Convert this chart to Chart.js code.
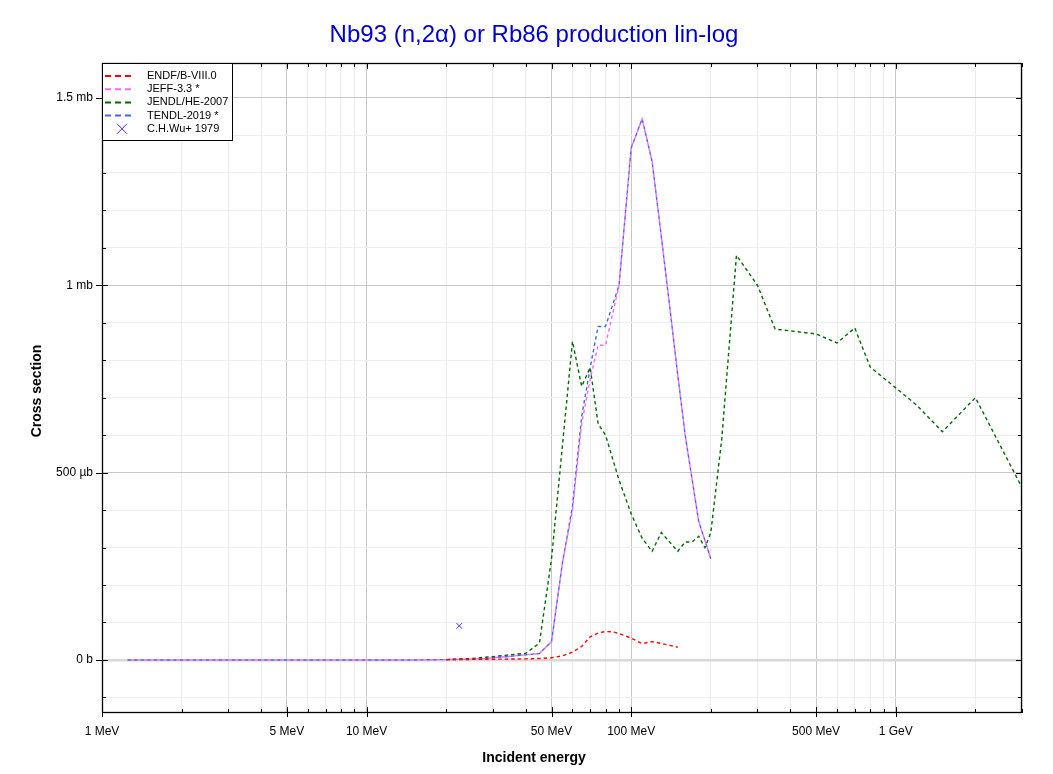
<!DOCTYPE html>
<html>
<head>
<meta charset="utf-8">
<script src="https://cdn.jsdelivr.net/npm/chart.js@4/dist/chart.umd.min.js"></script>
<style>
  html, body { margin: 0; padding: 0; background: #fff; }
  #wrap { width: 1053px; height: 774px; }
</style>
</head>
<body>
<div id="wrap"><canvas id="xsChart" width="1053" height="774"></canvas></div>
<script>
// energies in MeV, cross sections in mb
const tendlE = [1.25, 2, 5, 10, 15, 20, 22, 24, 26, 28, 30, 35, 40, 45, 50, 55, 60, 65, 70, 75, 80, 90, 100, 110, 120, 130, 140, 150, 160, 180, 200];
const tendlXS = [0, 0, 0, 0, 0, 0.001, 0.0015, 0.002, 0.003, 0.004, 0.006, 0.010, 0.014, 0.017, 0.049, 0.26, 0.41, 0.65, 0.78, 0.89, 0.89, 1.0, 1.366, 1.444, 1.33, 1.13, 0.94, 0.76, 0.60, 0.37, 0.27];
const jeffXS = [0, 0, 0, 0, 0, 0.001, 0.0015, 0.002, 0.003, 0.004, 0.006, 0.010, 0.014, 0.017, 0.049, 0.26, 0.40, 0.63, 0.75, 0.84, 0.84, 1.0, 1.366, 1.444, 1.33, 1.13, 0.94, 0.76, 0.60, 0.37, 0.27];

const endfE = [20, 25, 30, 35, 40, 45, 50, 55, 60, 65, 70, 75, 80, 85, 90, 100, 110, 120, 130, 140, 150];
const endfXS = [0.001, 0.0015, 0.002, 0.0025, 0.003, 0.004, 0.006, 0.011, 0.021, 0.036, 0.062, 0.072, 0.076, 0.075, 0.071, 0.058, 0.044, 0.049, 0.044, 0.039, 0.034];

const jendlE = [20, 25, 30, 35, 40, 45, 50, 60, 65, 70, 75, 80, 90, 100, 110, 120, 130, 150, 160, 170, 180, 190, 200, 220, 250, 300, 350, 500, 600, 700, 800, 1000, 1200, 1500, 2000, 3000];
const jendlXS = [0.001, 0.004, 0.009, 0.014, 0.018, 0.045, 0.27, 0.85, 0.73, 0.78, 0.63, 0.60, 0.48, 0.39, 0.325, 0.29, 0.34, 0.29, 0.315, 0.315, 0.33, 0.30, 0.34, 0.59, 1.08, 1.0, 0.883, 0.87, 0.846, 0.886, 0.782, 0.726, 0.68, 0.609, 0.70, 0.46];

const wuE = [22.4];
const wuXS = [0.091];

const xLabels = {1: "1 MeV", 5: "5 MeV", 10: "10 MeV", 50: "50 MeV", 100: "100 MeV", 500: "500 MeV", 1000: "1 GeV"};
const yLabels = {"0": "0 b", "0.5": "500 µb", "1": "1 mb", "1.5": "1.5 mb"};

const FONT = "'Liberation Sans', Arial, sans-serif";

function pts(xs, ys) {
  return xs.map((x, i) => ({x: x, y: ys[i]}));
}

// tick positions: 1..9 per decade on x, 0.1 steps on y
const xTicks = [];
[1, 10, 100, 1000].forEach(d => {
  for (let m = 1; m <= 9; m++) if (m * d <= 3000) xTicks.push(m * d);
});
const yTicks = [];
for (let i = -1; i <= 15; i++) yTicks.push(i / 10);

const isMajorX = v => xLabels[v] !== undefined;
const isMajorY = v => Math.abs(v * 2 - Math.round(v * 2)) < 1e-6;
const yKey = v => String(Math.round(v * 10) / 10);

function lineSet(label, color, data, offset) {
  return {
    label: label,
    data: data,
    borderColor: color,
    backgroundColor: color,
    borderWidth: 1.4,
    borderDash: [3.5, 3],
    borderDashOffset: offset || 0,
    pointRadius: 0,
    fill: false,
    tension: 0
  };
}

const frameAndLegend = {
  id: "frameAndLegend",
  afterDraw(chart) {
    const ctx = chart.ctx;
    const a = chart.chartArea;
    const sx = chart.scales.x, sy = chart.scales.y;
    ctx.save();
    ctx.strokeStyle = "#000";
    ctx.lineWidth = 1;
    ctx.setLineDash([]);

    // tick marks on all four sides
    ctx.beginPath();
    xTicks.forEach(v => {
      const px = Math.round(sx.getPixelForValue(v)) + 0.5;
      const len = isMajorX(v) ? 6 : 4;
      ctx.moveTo(px, a.bottom + (isMajorX(v) ? 4 : 0));
      ctx.lineTo(px, a.bottom - len);
      ctx.moveTo(px, a.top);
      ctx.lineTo(px, a.top + len);
    });
    yTicks.forEach(v => {
      const py = Math.round(sy.getPixelForValue(v)) + 0.5;
      const len = isMajorY(v) ? 6 : 4;
      ctx.moveTo(a.left - (isMajorY(v) ? 6 : 0), py);
      ctx.lineTo(a.left + len, py);
      ctx.moveTo(a.right, py);
      ctx.lineTo(a.right - len, py);
    });
    ctx.stroke();

    ctx.lineWidth = 1.3;
    ctx.strokeRect(a.left + 0.5, a.top + 0.5, a.right - a.left - 1, a.bottom - a.top - 1);

    // titles
    ctx.textAlign = "center";
    ctx.textBaseline = "middle";
    ctx.fillStyle = "#0000cc";
    ctx.font = "24px " + FONT;
    ctx.fillText("Nb93 (n,2α) or Rb86 production lin-log", 534, 35);
    ctx.fillStyle = "#000";
    ctx.font = "bold 14px " + FONT;
    ctx.fillText("Incident energy", 534, 758);
    ctx.save();
    ctx.translate(37, 391);
    ctx.rotate(-Math.PI / 2);
    ctx.fillText("Cross section", 0, 0);
    ctx.restore();

    // legend box, top-left of the plot
    const bx = a.left, by = a.top, bw = 130, bh = 77;
    ctx.fillStyle = "#fff";
    ctx.fillRect(bx, by, bw, bh);
    ctx.lineWidth = 1;
    ctx.strokeRect(bx + 0.5, by + 0.5, bw, bh);

    ctx.font = "11px " + FONT;
    ctx.textBaseline = "middle";
    ctx.textAlign = "left";
    chart.data.datasets.forEach((ds, i) => {
      const yy = by + 13 + i * 13.2;
      ctx.strokeStyle = ds.borderColor;
      if (ds.showLine === false) {
        ctx.lineWidth = 1;
        ctx.setLineDash([]);
        ctx.beginPath();
        ctx.moveTo(bx + 15, yy - 5);
        ctx.lineTo(bx + 25, yy + 5);
        ctx.moveTo(bx + 25, yy - 5);
        ctx.lineTo(bx + 15, yy + 5);
        ctx.stroke();
      } else {
        ctx.lineWidth = 2;
        ctx.setLineDash([6, 4]);
        ctx.beginPath();
        ctx.moveTo(bx + 3, yy);
        ctx.lineTo(bx + 33, yy);
        ctx.stroke();
      }
      ctx.fillStyle = "#000";
      ctx.fillText(ds.label, bx + 45, yy);
    });
    ctx.restore();
  }
};

const chart = new Chart(document.getElementById("xsChart").getContext("2d"), {
  type: "line",
  data: {
    datasets: [
      lineSet("ENDF/B-VIII.0", "#ff0000", pts(endfE, endfXS)),
      lineSet("JEFF-3.3 *", "#ff66ff", pts(tendlE, jeffXS), 3.25),
      lineSet("JENDL/HE-2007", "#006a00", pts(jendlE, jendlXS)),
      lineSet("TENDL-2019 *", "#4169e1", pts(tendlE, tendlXS)),
      {
        label: "C.H.Wu+ 1979",
        data: pts(wuE, wuXS),
        showLine: false,
        borderColor: "#3030ff",
        backgroundColor: "#3030ff",
        pointStyle: "crossRot",
        pointRadius: 4,
        pointBorderWidth: 1
      }
    ]
  },
  options: {
    responsive: false,
    animation: false,
    layout: { padding: { left: 0, right: 31, top: 63, bottom: 0 } },
    scales: {
      x: {
        type: "logarithmic",
        min: 1,
        max: 3000,
        afterBuildTicks: s => { s.ticks = xTicks.map(v => ({value: v})); },
        afterFit: s => { s.height = 61; },
        border: { display: false },
        grid: {
          drawTicks: false,
          color: c => (c.tick && isMajorX(c.tick.value)) ? "#c8c8c8" : "#ececec",
          lineWidth: 1
        },
        ticks: {
          autoSkip: false,
          maxRotation: 0,
          padding: 11,
          color: "#000",
          font: { family: FONT, size: 12 },
          callback: v => xLabels[v] || ""
        }
      },
      y: {
        type: "linear",
        min: -0.1415,
        max: 1.593,
        afterBuildTicks: s => { s.ticks = yTicks.map(v => ({value: v})); },
        afterFit: s => { s.width = 102; },
        border: { display: false },
        grid: {
          drawTicks: false,
          color: c => {
            const v = c.tick ? c.tick.value : 1;
            if (Math.abs(v) < 1e-9) return "#d8d8d8";
            return isMajorY(v) ? "#c8c8c8" : "#efefef";
          },
          lineWidth: c => (c.tick && Math.abs(c.tick.value) < 1e-9) ? 2.5 : 1
        },
        ticks: {
          autoSkip: false,
          padding: 9,
          color: "#000",
          font: { family: FONT, size: 12 },
          callback: v => yLabels[yKey(v)] || ""
        }
      }
    },
    plugins: {
      legend: { display: false },
      tooltip: { enabled: false },
      title: { display: false }
    }
  },
  plugins: [frameAndLegend]
});
</script>
</body>
</html>
